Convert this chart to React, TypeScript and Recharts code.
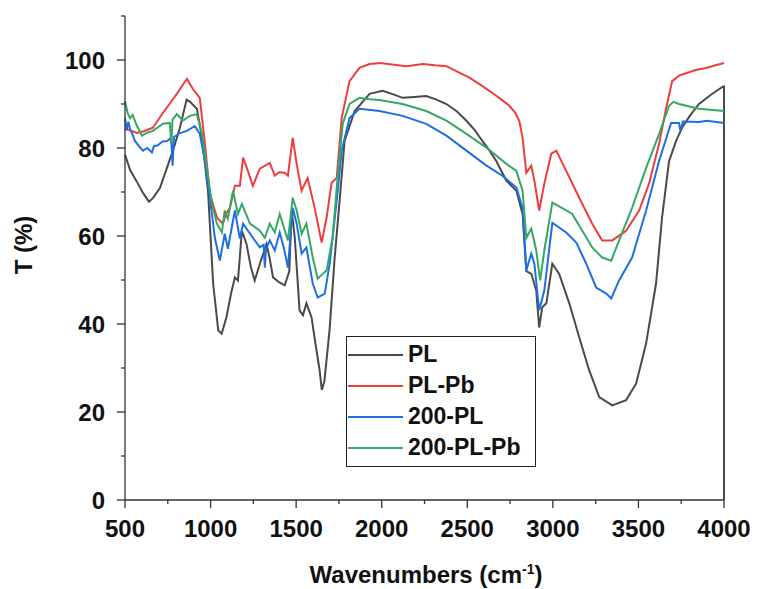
import { LineChart, Line, XAxis, YAxis, Legend } from 'recharts'

// PL
const plWn = [500, 530, 570, 605, 640, 663, 704, 745, 780, 820, 860, 880, 920, 950, 985, 1015, 1045, 1065, 1093, 1120, 1142, 1160, 1183, 1210, 1235, 1258, 1288, 1327, 1345, 1365, 1400, 1433, 1460, 1474, 1492, 1520, 1540, 1560, 1590, 1615, 1637, 1650, 1665, 1695, 1725, 1754, 1783, 1842, 1929, 2005, 2060, 2122, 2190, 2260, 2320, 2378, 2440, 2495, 2545, 2588, 2630, 2670, 2728, 2787, 2823, 2845, 2874, 2903, 2920, 2938, 2962, 2997, 3037, 3096, 3154, 3212, 3271, 3347, 3428, 3487, 3545, 3603, 3638, 3679, 3720, 3755, 3800, 3854, 3920, 3994, 4000, 4000]
const plT = [78.5, 75, 72.3, 69.8, 67.8, 68.6, 70.9, 75.5, 79.4, 84.5, 91, 90.5, 88.9, 82.3, 70.3, 49.2, 38.5, 37.8, 41.6, 47, 50.6, 49.9, 61.2, 58.2, 53, 49.9, 53.7, 58.2, 55, 50.6, 49.5, 48.8, 52, 65.8, 59.6, 43.1, 42, 44.7, 41.5, 35, 29.5, 25, 27, 38.5, 55, 68, 81.6, 88.4, 92.3, 93, 92.3, 91.4, 91.6, 91.8, 91, 90, 88.3, 86.2, 84, 81.6, 79.4, 77, 72.6, 70.3, 65, 52, 51.4, 47.6, 39.2, 43.8, 44.7, 53.7, 51.4, 44.7, 37, 29.5, 23.4, 21.5, 22.7, 26.5, 35.6, 49.2, 64.2, 77, 81.6, 84.6, 87.3, 90, 92, 94, 94, 0]

// PL-Pb
const plPbWn = [500, 530, 570, 610, 663, 722, 760, 803, 840, 862, 880, 897, 937, 967, 996, 1037, 1072, 1090, 1113, 1142, 1171, 1190, 1218, 1247, 1288, 1346, 1375, 1400, 1433, 1452, 1480, 1503, 1532, 1567, 1608, 1649, 1678, 1707, 1737, 1766, 1812, 1870, 1929, 1990, 2060, 2145, 2240, 2310, 2378, 2450, 2512, 2580, 2647, 2700, 2746, 2780, 2804, 2823, 2845, 2874, 2892, 2920, 2950, 2991, 3020, 3078, 3154, 3230, 3288, 3347, 3428, 3504, 3562, 3621, 3662, 3697, 3740, 3778, 3840, 3895, 3950, 4000]
const plPbT = [84.4, 84, 83.4, 83.8, 84.6, 88, 90, 92.3, 94.5, 95.7, 94.5, 93.4, 91.4, 81, 69.6, 64.2, 62.8, 65, 66.4, 71.4, 71.4, 77.8, 74.8, 71.4, 75.3, 76.6, 73.7, 74.5, 74.4, 73.7, 82.3, 76.4, 70.3, 73.2, 66.4, 58.5, 64.2, 72.1, 73.2, 86.8, 95.2, 98.2, 99.1, 99.3, 99, 98.6, 99.1, 98.8, 98.6, 97.2, 96, 94.3, 92.5, 91, 89.6, 88, 86.2, 82.3, 74.4, 76, 72.6, 65.8, 71.9, 78.7, 79.4, 74.8, 68.7, 62.8, 59, 59, 61.2, 65.8, 71.9, 81, 89.1, 95.2, 96.5, 97, 97.8, 98.2, 98.8, 99.3]

// 200-PL
const pl200Wn = [500, 510, 520, 529, 545, 558, 580, 605, 630, 657, 670, 687, 720, 745, 770, 778, 786, 821, 862, 908, 937, 967, 996, 1025, 1054, 1083, 1101, 1142, 1171, 1190, 1247, 1288, 1310, 1317, 1324, 1346, 1375, 1404, 1430, 1452, 1480, 1503, 1532, 1560, 1597, 1626, 1667, 1696, 1737, 1766, 1812, 1870, 1987, 2122, 2260, 2378, 2495, 2612, 2705, 2787, 2823, 2845, 2874, 2892, 2920, 2950, 2997, 3078, 3137, 3195, 3253, 3312, 3341, 3387, 3463, 3545, 3621, 3691, 3737, 3745, 3760, 3854, 3900, 4000]
const pl200T = [86.8, 84, 86, 84.4, 83, 81.6, 80.5, 79.4, 80, 79, 80.5, 80.5, 81.5, 81.6, 82.3, 76, 82.5, 83.4, 83.9, 85, 83.2, 77.1, 68.7, 59.6, 54.4, 60.5, 57.1, 65.8, 59.4, 62.8, 59.6, 57.4, 58, 52.8, 57, 59, 56.7, 60.8, 57, 52.8, 66.4, 62.8, 56, 57.4, 49.2, 46, 46.9, 53.7, 68, 79.4, 86.8, 88.9, 88.4, 87.3, 85.5, 82.8, 79.4, 76, 73.7, 71, 66.4, 52.2, 56, 53.7, 43.1, 47.6, 63, 60.8, 58.5, 53.7, 48.3, 46.9, 45.8, 49.9, 55.1, 65.8, 77.1, 85.7, 85.7, 84, 86, 85.9, 86.2, 85.7]

// 200-PL-Pb
const pl200PbWn = [500, 515, 529, 545, 570, 599, 630, 663, 722, 762, 770, 778, 803, 838, 879, 920, 950, 978, 1008, 1037, 1066, 1083, 1101, 1131, 1160, 1183, 1230, 1288, 1317, 1346, 1375, 1404, 1452, 1480, 1503, 1532, 1560, 1597, 1626, 1678, 1713, 1742, 1772, 1812, 1870, 1929, 1987, 2122, 2260, 2378, 2495, 2612, 2728, 2787, 2823, 2845, 2874, 2903, 2926, 2950, 2997, 3078, 3113, 3172, 3230, 3288, 3341, 3387, 3463, 3545, 3621, 3679, 3705, 3737, 3854, 3950, 4000]
const pl200PbT = [90.7, 88, 86.8, 87.5, 85, 82.8, 83.5, 83.9, 85.5, 85.7, 81, 86.5, 87.7, 86.2, 87.3, 87.7, 83.2, 75.5, 67.3, 62.8, 60.8, 65.8, 63.9, 70.3, 65, 67.3, 62.8, 61.2, 59.6, 62.8, 60.8, 65, 59, 68.7, 65.8, 60.5, 62.8, 55.1, 50.3, 52.2, 59.6, 73.2, 85.5, 90, 91.4, 91.1, 90.9, 90, 88.4, 86.2, 83.2, 80.1, 76.4, 74.8, 70.3, 59.6, 61.7, 56.7, 49.9, 56.7, 67.6, 65.8, 65, 61.2, 57.4, 55.1, 54.4, 59, 66.4, 75.5, 83.2, 89.6, 90.5, 90, 88.9, 88.6, 88.4]

const xTicks = [500, 750, 1000, 1250, 1500, 1750, 2000, 2250, 2500, 2750, 3000, 3250, 3500, 3750, 4000]
const yTicks = [0, 10, 20, 30, 40, 50, 60, 70, 80, 90, 100, 110]

const FONT = '"Liberation Sans", Arial, sans-serif'
const AXIS = '#333'

const zip = (wn: number[], t: number[]) => wn.map((w, i) => ({ wn: w, t: t[i] }))

const series = [
  { name: 'PL', color: '#4a4a4a', data: zip(plWn, plT) },
  { name: 'PL-Pb', color: '#ef3d3d', data: zip(plPbWn, plPbT) },
  { name: '200-PL', color: '#1e6fe3', data: zip(pl200Wn, pl200T) },
  { name: '200-PL-Pb', color: '#36a865', data: zip(pl200PbWn, pl200PbT) },
]

// tickSize 8 + tickMargin 12
function XTick(props: any) {
  const { x, y, payload } = props
  const major = payload.value % 500 === 0
  const axisY = y - 20
  return (
    <g>
      <line x1={x} x2={x} y1={axisY} y2={axisY + (major ? 8 : 4)} stroke={AXIS} strokeWidth={1.3} />
      {major && (
        <text x={x} y={y} dy="0.71em" textAnchor="middle" fontFamily={FONT} fontWeight="bold" fontSize={24} fill="#111">
          {payload.value}
        </text>
      )}
    </g>
  )
}

function YTick(props: any) {
  const { x, y, payload } = props
  const major = payload.value % 20 === 0
  const axisX = x + 20
  return (
    <g>
      <line x1={axisX - (major ? 8 : 4)} x2={axisX} y1={y} y2={y} stroke={AXIS} strokeWidth={1.3} />
      {major && (
        <text x={x} y={y} dy="0.355em" textAnchor="end" fontFamily={FONT} fontWeight="bold" fontSize={24} fill="#111">
          {payload.value}
        </text>
      )}
    </g>
  )
}

function LegendBox() {
  return (
    <div
      style={{
        width: 190,
        height: 131,
        border: '1px solid #222',
        boxSizing: 'border-box',
        paddingTop: 2,
        background: '#fff',
      }}
    >
      {series.map((s) => (
        <div key={s.name} style={{ display: 'flex', alignItems: 'center', height: 31 }}>
          <svg width={60} height={4} style={{ marginLeft: 1 }}>
            <line x1={0} x2={55} y1={2} y2={2} stroke={s.color} strokeWidth={2} />
          </svg>
          <span style={{ fontFamily: FONT, fontWeight: 'bold', fontSize: 23, color: '#111', lineHeight: '31px' }}>
            {s.name}
          </span>
        </div>
      ))}
    </div>
  )
}

export default function App() {
  return (
    <div style={{ position: 'absolute', left: 0, top: 0, background: '#fff' }}>
      <LineChart width={757} height={589} margin={{ top: 16, right: 33, bottom: 49, left: 65 }}>
        <XAxis
          dataKey="wn"
          type="number"
          domain={[500, 4000]}
          ticks={xTicks}
          interval={0}
          allowDuplicatedCategory={false}
          tickLine={false}
          tickSize={8}
          tickMargin={12}
          height={40}
          stroke={AXIS}
          strokeWidth={1.3}
          tick={<XTick />}
          label={{
            content: () => (
              <text x={426} y={583} textAnchor="middle" fontFamily={FONT} fontWeight="bold" fontSize={24} fill="#111">
                <tspan>Wavenumbers (cm</tspan>
                <tspan dy={-9} fontSize={14}>-1</tspan>
                <tspan dy={9}>)</tspan>
              </text>
            ),
          }}
        />
        <YAxis
          dataKey="t"
          type="number"
          domain={[0, 110]}
          ticks={yTicks}
          interval={0}
          tickLine={false}
          tickSize={8}
          tickMargin={12}
          width={60}
          stroke={AXIS}
          strokeWidth={1.3}
          tick={<YTick />}
          label={{
            content: () => (
              <text
                x={32}
                y={245}
                textAnchor="middle"
                transform="rotate(-90, 32, 245)"
                fontFamily={FONT}
                fontWeight="bold"
                fontSize={24}
                fill="#111"
              >
                T (%)
              </text>
            ),
          }}
        />
        <Legend
          layout="vertical"
          align="center"
          verticalAlign="middle"
          wrapperStyle={{ left: 346, top: 336, width: 190 }}
          content={() => <LegendBox />}
        />
        {series.map((s) => (
          <Line
            key={s.name}
            data={s.data}
            dataKey="t"
            name={s.name}
            type="linear"
            stroke={s.color}
            strokeWidth={2}
            dot={false}
            isAnimationActive={false}
          />
        ))}
      </LineChart>
    </div>
  )
}
